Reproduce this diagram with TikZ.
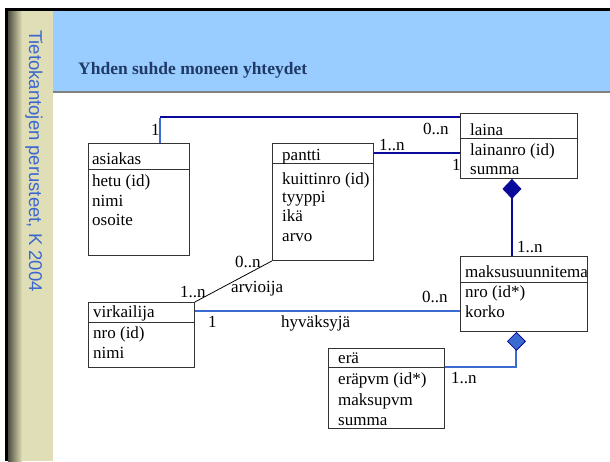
\documentclass[tikz,border=0pt]{standalone}
\usepackage{fontspec}
\setmainfont{Liberation Serif}
\newfontfamily\sidefont{Liberation Sans}
\usetikzlibrary{arrows.meta,calc}
\definecolor{navy}{HTML}{0A0A9A}
\definecolor{midblue}{HTML}{3A6BD0}
\definecolor{headblue}{HTML}{99CCFF}
\definecolor{sidebeige}{HTML}{DFDEB6}
\definecolor{titleblue}{HTML}{1F3A66}
\definecolor{sideblue}{HTML}{3A66D0}
\tikzset{
  cls/.style={draw=black!80, fill=white, line width=0.9pt, anchor=north west, inner sep=0pt},
  clsline/.style={black!80, line width=0.9pt},
  txt/.style={anchor=base west, inner sep=0pt, font=\fontsize{17}{19}\selectfont},
  navyline/.style={navy, line width=2pt},
  blueline/.style={midblue, line width=2pt},
}

\begin{document}
\begin{tikzpicture}[x=1pt,y=-1pt]
            \useasboundingbox (0,0) rectangle (610,461);
            % slide background
            \fill[white] (0,0) rectangle (610,461);
            \fill[black] (5,8) rectangle (610,11);
            \fill[black] (5,8) rectangle (8,461);
            \fill[sidebeige] (8,11) rectangle (53,461);
            \shade[left color=black!65!sidebeige, right color=sidebeige] (8,11) rectangle (22,461);
            \fill[headblue] (53,11) rectangle (610,92);
            \draw[gray, line width=1.2pt] (53,92) -- (610,92);
            \node[anchor=base west, rotate=-90, inner sep=0pt, text=sideblue, font=\sidefont\fontsize{18.5}{20}\selectfont] (side) at (29,30) {Tietokantojen perusteet, K 2004};
            \node[anchor=base west, inner sep=0pt, text=titleblue, font=\bfseries\fontsize{17.5}{20}\selectfont] (title) at (78,74) {Yhden suhde moneen yhteydet};

            % classes
            \node[cls, minimum width=101, minimum height=112] (asiakas) at (88,143) {};
            \node[cls, minimum width=101, minimum height=117] (pantti) at (272,143) {};
            \node[cls, minimum width=117, minimum height=65] (laina) at (460,113) {};
            \node[cls, minimum width=127, minimum height=75] (maksu) at (460,256) {};
            \node[cls, minimum width=116, minimum height=80] (era) at (328,348) {};
            \node[cls, minimum width=106, minimum height=65] (virk) at (88,302) {};
            \draw[clsline] (asiakas.west |- 0,169) -- (asiakas.east |- 0,169);
            \draw[clsline] (pantti.west |- 0,163) -- (pantti.east |- 0,163);
            \draw[clsline] (laina.west |- 0,138) -- (laina.east |- 0,138);
            \draw[clsline] (maksu.west |- 0,282) -- (maksu.east |- 0,282);
            \draw[clsline] (era.west |- 0,367) -- (era.east |- 0,367);
            \draw[clsline] (virk.west |- 0,322) -- (virk.east |- 0,322);

            \node[txt] (asiakasname) at (92,164) {asiakas};
            \node[txt] (asiakasa1) at (92,186) {hetu (id)};
            \node[txt] (asiakasa2) at (92,206) {nimi};
            \node[txt] (asiakasa3) at (92,225) {osoite};
            \node[txt] (panttiname) at (282,160) {pantti};
            \node[txt] (panttia1) at (282,184) {kuittinro (id)};
            \node[txt] (panttia2) at (282,202) {tyyppi};
            \node[txt] (panttia3) at (282,221) {ikä};
            \node[txt] (panttia4) at (282,241) {arvo};
            \node[txt] (lainaname) at (470,135) {laina};
            \node[txt] (lainaa1) at (470,155) {lainanro (id)};
            \node[txt] (lainaa2) at (470,174) {summa};
            \node[txt] (maksuname) at (465,277) {maksusuunnitema};
            \node[txt] (maksua1) at (465,297) {nro (id*)};
            \node[txt] (maksua2) at (465,317) {korko};
            \node[txt] (eraname) at (338,363) {erä};
            \node[txt] (eraa1) at (338,384) {eräpvm (id*)};
            \node[txt] (eraa2) at (338,405) {maksupvm};
            \node[txt] (eraa3) at (338,425) {summa};
            \node[txt] (virkname) at (93,317) {virkailija};
            \node[txt] (virka1) at (93,338) {nro (id)};
            \node[txt] (virka2) at (93,358) {nimi};

            % connections
            \coordinate (bend) at ($(asiakas.north)+(21,-26)$);
            \draw[navyline] (bend) -- ($(laina.north west)+(0,4)$);
            \draw[blueline] ($(asiakas.north)+(21,0)$) -- ($(bend)+(0,1)$);
            \draw[navyline] ($(pantti.north east)+(0,10)$) -- ($(laina.north west)+(0,40)$);
            \draw[navyline, {Diamond[width=19pt,length=20pt,line width=0.8pt,fill=navy]}-] ($(laina.south)+(-7,0)$) -- ($(maksu.north)+(-12,0)$);
            \draw[black, line width=0.8pt] (virk.north east) -- (pantti.south west);
            \draw[blueline] ($(virk.north east)+(0,9)$) -- ($(maksu.north west)+(0,55)$);
            \draw[blueline, {Diamond[width=19pt,length=19pt,line width=0.8pt,color=navy,fill=midblue]}-] ($(maksu.south)+(-7.5,0)$) |- ($(era.north east)+(0,19)$);

            % multiplicities and roles
            \node[txt] (m1) at (151,135) {1};
            \node[txt] (m2) at (423,134) {0..n};
            \node[txt] (m3) at (379,150) {1..n};
            \node[txt] (m4) at (452,170) {1};
            \node[txt] (m5) at (517,252) {1..n};
            \node[txt] (m6) at (235,267) {0..n};
            \node[txt] (m7) at (180,297) {1..n};
            \node[txt] (r1) at (231,292) {arvioija};
            \node[txt] (m8) at (208,327) {1};
            \node[txt] (r2) at (281,327) {hyväksyjä};
            \node[txt] (m9) at (422,302) {0..n};
            \node[txt] (m10) at (451,383) {1..n};
\end{tikzpicture}
\end{document}
